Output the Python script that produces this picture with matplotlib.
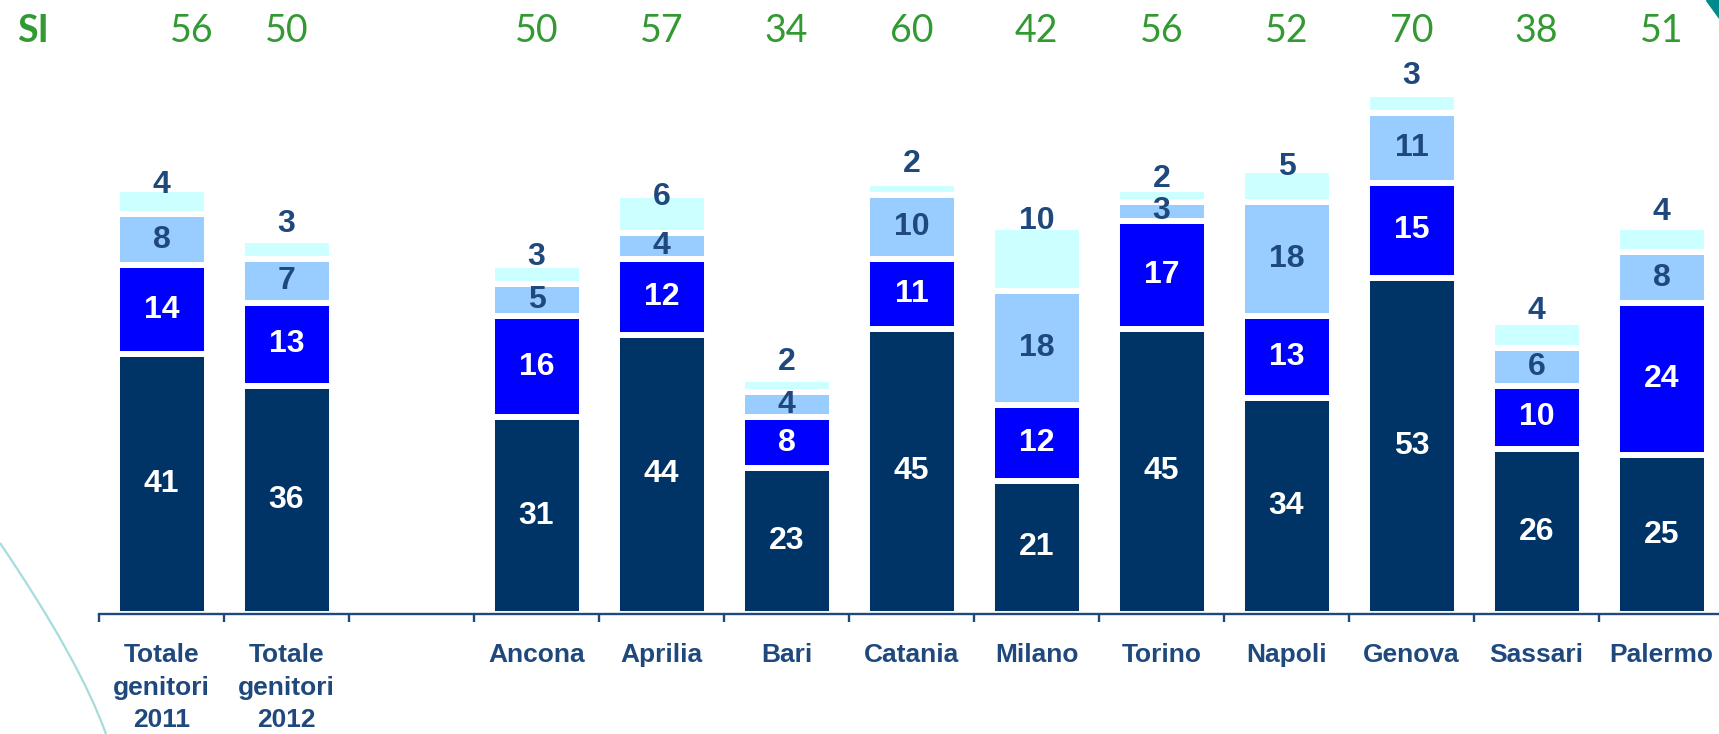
import matplotlib.pyplot as plt
import numpy as np
from matplotlib.path import Path
from matplotlib.patches import PathPatch, Polygon
from matplotlib.transforms import blended_transform_factory

# categories (None = empty slot in the chart)
categories = ["Totale\ngenitori\n2011", "Totale\ngenitori\n2012", None,
              "Ancona", "Aprilia", "Bari", "Catania", "Milano",
              "Torino", "Napoli", "Genova", "Sassari", "Palermo"]

# stacked segments, bottom to top
seg1 = [41, 36, None, 31, 44, 23, 45, 21, 45, 34, 53, 26, 25]
seg2 = [14, 13, None, 16, 12, 8, 11, 12, 17, 13, 15, 10, 24]
seg3 = [8, 7, None, 5, 4, 4, 10, 18, 3, 18, 11, 6, 8]
seg4 = [4, 3, None, 3, 6, 2, 2, 10, 2, 5, 3, 4, 4]

# "SI" totals shown on top row
si_values = [56, 50, None, 50, 57, 34, 60, 42, 56, 52, 70, 38, 51]

# label tweaks: how far (px) the top label sits above its bar
top_label_gap = [-1, 11, None, 3, -7, 12, 14, 1, 5, -2, 13, 6, 10]

seg_colors = ["#003366", "#0000FF", "#99CCFF", "#CCFFFF"]
label_colors = ["white", "white", "#1F497D", "#1F497D"]
text_blue = "#1F497D"
green = "#339933"

W, H = 1719, 734
fig = plt.figure(figsize=(W / 100, H / 100), dpi=100)
ax = fig.add_axes([99 / W, 1 - 614 / H, 1625 / W, 614 / H])

x = np.arange(len(categories))
keep = [i for i, c in enumerate(categories) if c is not None]
series = [seg1, seg2, seg3, seg4]

bottom = np.zeros(len(keep))
for s, (vals, col, lc) in enumerate(zip(series, seg_colors, label_colors)):
    v = np.array([vals[i] for i in keep], dtype=float)
    ax.bar(x[keep], v, bottom=bottom, width=0.72, color=col,
           edgecolor="white", linewidth=4.3)
    for k, (xi, b, h) in enumerate(zip(x[keep], bottom, v)):
        if s == 3:
            lift = (top_label_gap[keep[k]] - 3) * 0.72
            ax.annotate(f"{int(h)}", (xi, b + h), xytext=(0, lift),
                        textcoords="offset points", ha="center",
                        va="baseline", fontsize=23, fontweight="bold",
                        color=lc, family="Liberation Sans")
        else:
            ax.text(xi, b + h / 2, f"{int(h)}", ha="center", va="center",
                    fontsize=23, fontweight="bold", color=lc,
                    family="Liberation Sans")
    bottom = bottom + v

ax.set_xlim(-0.5, len(categories) - 0.5)
ax.set_ylim(0, 96.8)

# totals row (first one sits a bit right of its bar in the original)
trans = blended_transform_factory(ax.transData, ax.transAxes)
for i in keep:
    shift = 0.24 if i == 0 else 0
    ax.text(x[i] + shift, 0.95, str(si_values[i]), transform=trans,
            ha="center", va="center", fontsize=27, color=green, family="Lato")
fig.text(33 / W, 1 - 31 / H, "SI", ha="center", va="center", fontsize=27,
         fontweight="bold", color=green, family="Lato")

# axes styling
for side in ["left", "top", "right"]:
    ax.spines[side].set_visible(False)
ax.spines["bottom"].set_color(text_blue)
ax.spines["bottom"].set_linewidth(1.7)
ax.set_yticks([])
ax.set_xticks(x[keep])
ax.set_xticklabels([categories[i] for i in keep], fontsize=19,
                   fontweight="bold", color=text_blue,
                   family="Liberation Sans", linespacing=1.45)
ax.tick_params(axis="x", which="major", length=0, pad=21)
ax.set_xticks(np.arange(len(categories) + 1) - 0.5, minor=True)
ax.tick_params(axis="x", which="minor", length=6, width=1.7, color=text_blue)

# decorative shapes
p0, p1, p2 = (0, 543), (80, 661), (106, 734)
verts = [(px / W, 1 - py / H) for px, py in (p0, p1, p2)]
curve = PathPatch(Path(verts, [Path.MOVETO, Path.CURVE3, Path.CURVE3]),
                  transform=fig.transFigure, fill=False,
                  edgecolor="#A8DCDC", linewidth=1.6)
fig.add_artist(curve)
tri = Polygon([(1706 / W, 1.0), (1.0, 1.0), (1.0, 1 - 18 / H)],
              closed=True, transform=fig.transFigure, color="#008B8B")
fig.add_artist(tri)

fig.savefig("out.png", dpi=100)
